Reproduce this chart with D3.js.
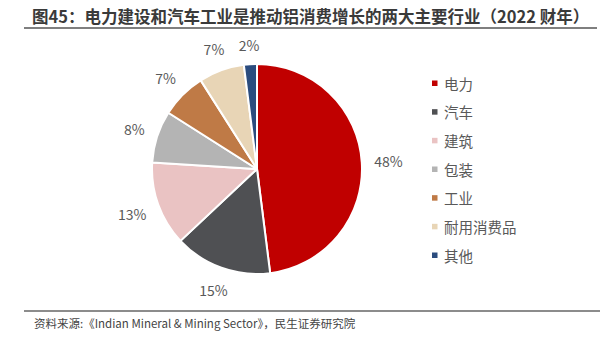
<!DOCTYPE html>
<html><head><meta charset="utf-8">
<script src="https://cdn.jsdelivr.net/npm/d3@7"></script>
<style>
body{margin:0;background:#fff;}
svg{display:block;font-family:"Noto Sans CJK SC","Noto Sans",sans-serif;}
</style></head>
<body>
<svg id="c" width="603" height="348"></svg>
<script>
const categories = ["电力","汽车","建筑","包装","工业","耐用消费品","其他"];
const values = [48,15,13,8,7,7,2];
const labels = ["48%","15%","13%","8%","7%","7%","2%"];
const colors = ["#C00000","#4F5053","#EAC3C3","#B4B4B4","#BF7A46","#E8D5B6","#2B4C7E"];
const titleText = "图45：电力建设和汽车工业是推动铝消费增长的两大主要行业（2022 财年）";
const sourceText = "资料来源:《Indian Mineral & Mining Sector》，民生证券研究院";

const svg = d3.select("#c");
// title
svg.append("text").attr("x",32).attr("y",23).attr("font-size",16.5).attr("font-weight","bold")
  .attr("fill","#3a3a3a").text(titleText);
svg.append("line").attr("x1",24).attr("x2",597).attr("y1",28).attr("y2",28)
  .attr("stroke","#555").attr("stroke-width",1.5);
// source
svg.append("line").attr("x1",24).attr("x2",600).attr("y1",311).attr("y2",311)
  .attr("stroke","#666").attr("stroke-width",1.5);
svg.append("text").attr("x",34).attr("y",328).attr("font-size",11.5)
  .attr("fill","#444").text(sourceText);

// pie
const cx=257, cy=169, r=105;
const pie = d3.pie().sort(null).value(d=>d)(values);
const arc = d3.arc().innerRadius(0).outerRadius(r);
const g = svg.append("g").attr("transform",`translate(${cx},${cy})`);
g.selectAll("path").data(pie).join("path")
  .attr("d",arc).attr("fill",(d,i)=>colors[i])
  .attr("stroke","#fff").attr("stroke-width",2).attr("stroke-linejoin","round");
const gap = 12;
const lbl = g.selectAll("text").data(pie).join("text")
  .attr("text-anchor","middle").attr("dominant-baseline","central")
  .attr("font-size",14).attr("fill","#595959")
  .text((d,i)=>labels[i]);
lbl.attr("transform",function(d){
  const a=(d.startAngle+d.endAngle)/2, ux=Math.sin(a), uy=-Math.cos(a);
  const hw=this.getComputedTextLength()/2, hh=7;
  const dist=r+gap+Math.abs(ux)*hw+Math.abs(uy)*hh;
  return `translate(${ux*dist},${uy*dist})`;
});

// legend
const ly = d3.scalePoint().domain(categories).range([83,255]);
const lg = svg.append("g");
lg.selectAll("rect").data(categories).join("rect")
  .attr("x",432).attr("y",d=>ly(d)-2.5).attr("width",5.5).attr("height",5.5)
  .attr("fill",(d,i)=>colors[i]);
lg.selectAll("text").data(categories).join("text")
  .attr("x",444).attr("y",d=>ly(d)).attr("dominant-baseline","central")
  .attr("font-size",14.5).attr("fill","#595959").text(d=>d);
</script>
</body></html>
